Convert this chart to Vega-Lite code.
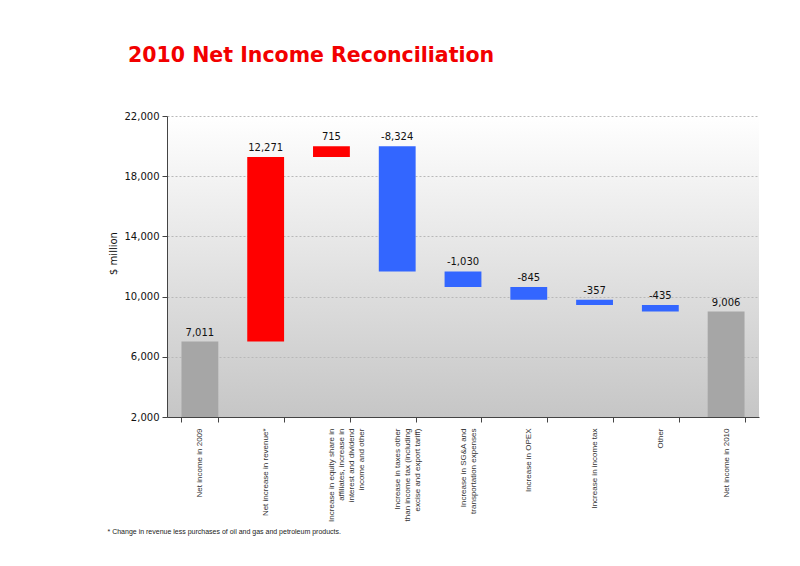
{
  "$schema": "https://vega.github.io/schema/vega-lite/v6.json",
  "autosize": "none",
  "width": 592,
  "height": 301,
  "padding": {"left": 167, "top": 116, "right": 41, "bottom": 149},
  "background": "#ffffff",
  "title": {
    "text": "2010 Net Income Reconciliation",
    "anchor": "start",
    "frame": "group",
    "dx": -39,
    "offset": 29,
    "baseline": "alphabetic",
    "font": "DejaVu Sans",
    "fontSize": 20.5,
    "fontWeight": "bold",
    "color": "#f20000"
  },
  "config": {
    "view": {
      "stroke": null,
      "fill": {
        "gradient": "linear",
        "x1": 0, "y1": 0, "x2": 0, "y2": 1,
        "stops": [
          {"offset": 0, "color": "#ffffff"},
          {"offset": 1, "color": "#c6c6c6"}
        ]
      }
    }
  },
  "data": {
    "values": [
      {"cat": "Net income in 2009", "start": 0, "end": 7011, "top": 7011, "text": "7,011", "kind": "total"},
      {"cat": "Net increase in revenue*", "start": 7011, "end": 19282, "top": 19282, "text": "12,271", "kind": "up"},
      {"cat": "Increase in equity share in|affiliates, increase in|interest and dividend|income and other", "start": 19282, "end": 19997, "top": 19997, "text": "715", "kind": "up"},
      {"cat": "Increase in taxes other|than income tax (including|excise and export tariff)", "start": 19997, "end": 11673, "top": 19997, "text": "-8,324", "kind": "down"},
      {"cat": "Increase in SG&A and|transportation expenses", "start": 11673, "end": 10643, "top": 11673, "text": "-1,030", "kind": "down"},
      {"cat": "Increase in OPEX", "start": 10643, "end": 9798, "top": 10643, "text": "-845", "kind": "down"},
      {"cat": "Increase in income tax", "start": 9798, "end": 9441, "top": 9798, "text": "-357", "kind": "down"},
      {"cat": "Other", "start": 9441, "end": 9006, "top": 9441, "text": "-435", "kind": "down"},
      {"cat": "Net income in 2010", "start": 0, "end": 9006, "top": 9006, "text": "9,006", "kind": "total"}
    ]
  },
  "encoding": {
    "x": {
      "field": "cat",
      "type": "nominal",
      "sort": null,
      "scale": {"paddingInner": 0.44, "paddingOuter": 0.22},
      "axis": {
        "title": "* Change in revenue less purchases of oil and gas and petroleum products.",
        "titleFont": "Liberation Sans",
        "titleFontSize": 7,
        "titleFontWeight": "normal",
        "titleColor": "#222222",
        "titleAnchor": "start",
        "titleAlign": "left",
        "titleBaseline": "middle",
        "titleX": -60,
        "titleY": 114,
        "labelExpr": "split(datum.label, '|')",
        "labelAngle": -90,
        "labelAlign": "right",
        "labelBaseline": "middle",
        "labelFont": "Liberation Sans",
        "labelFontSize": 8,
        "labelLineHeight": 10,
        "labelColor": "#333333",
        "labelPadding": 6,
        "labelLimit": 200,
        "tickBand": "extent",
        "tickSize": 5,
        "tickColor": "#444444",
        "domainColor": "#444444",
        "grid": false
      }
    }
  },
  "layer": [
    {
      "mark": {"type": "bar", "clip": true},
      "encoding": {
        "y": {
          "field": "start",
          "type": "quantitative",
          "scale": {"domain": [2000, 22000], "nice": false, "zero": false},
          "axis": {
            "title": "$ million",
            "titleFont": "DejaVu Sans",
            "titleFontSize": 10,
            "titleFontWeight": "normal",
            "titleColor": "#111111",
            "titleX": -49,
            "titleY": 137,
            "values": [2000, 6000, 10000, 14000, 18000, 22000],
            "format": ",.0f",
            "labelFont": "DejaVu Sans",
            "labelFontSize": 10,
            "labelColor": "#111111",
            "labelPadding": 3,
            "tickSize": 5,
            "tickColor": "#444444",
            "domainColor": "#444444",
            "grid": true,
            "gridColor": "#b8b8b8",
            "gridDash": [2, 2],
            "gridWidth": 1
          }
        },
        "y2": {"field": "end"},
        "color": {
          "field": "kind",
          "type": "nominal",
          "scale": {"domain": ["total", "up", "down"], "range": ["#a6a6a6", "#ff0000", "#3366ff"]},
          "legend": null
        }
      }
    },
    {
      "mark": {"type": "text", "baseline": "bottom", "dy": -4, "font": "DejaVu Sans", "fontSize": 10, "color": "#111111"},
      "encoding": {
        "y": {"field": "top", "type": "quantitative"},
        "text": {"field": "text", "type": "nominal"}
      }
    }
  ]
}
